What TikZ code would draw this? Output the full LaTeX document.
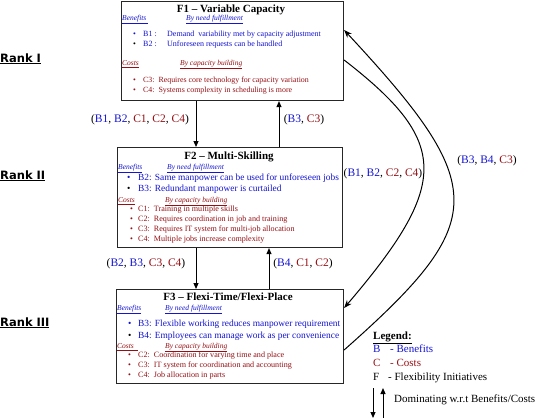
\documentclass[tikz,border=0pt]{standalone}
\usepackage{fontspec}
\setmainfont{Liberation Serif}
\newfontfamily\rankfont{DejaVu Sans}
\usetikzlibrary{arrows.meta}
\definecolor{bcol}{RGB}{20,20,210}
\definecolor{ccol}{RGB}{150,15,20}
\begin{document}
\begin{tikzpicture}[x=1pt,y=-1pt,
  box/.style={draw=black!85, line width=1.1pt, fill=white, inner sep=0, anchor=north west},
  txt/.style={anchor=base west, inner sep=0},
  ttl/.style={inner sep=0, anchor=base, yshift=-3.6pt, font=\fontsize{11}{13}\selectfont\bfseries},
  bA/.style={txt, yshift=-2.5pt, text=bcol, font=\fontsize{8}{10}\selectfont},
  cA/.style={txt, yshift=-2.5pt, text=ccol, font=\fontsize{7.9}{10}\selectfont},
  bB/.style={txt, yshift=-2.9pt, text=bcol, font=\fontsize{9.4}{11}\selectfont},
  cB/.style={txt, yshift=-2.5pt, text=ccol, font=\fontsize{8.1}{10}\selectfont},
  hB/.style={txt, yshift=-2.4pt, text=bcol, font=\fontsize{7.5}{9}\selectfont\itshape},
  hC/.style={txt, yshift=-2.4pt, text=ccol, font=\fontsize{7.5}{9}\selectfont\itshape},
  lbl/.style={inner sep=0, font=\fontsize{11.5}{13}\selectfont},
  rank/.style={txt, yshift=-4pt, font=\fontsize{11.5}{13}\selectfont\rankfont\bfseries},
  leg/.style={txt, yshift=-3.5pt, font=\fontsize{11}{12}\selectfont},
  arr/.style={line width=1pt, -{Triangle[length=6pt,width=5pt]}},
  curv/.style={line width=1pt, -{Stealth[length=8pt,width=6pt]}}]
\useasboundingbox (0,0) rectangle (544,418);

% boxes
\node[box, minimum width=222pt, minimum height=99pt] (f1) at (121,1) {};
\node[box, minimum width=225pt, minimum height=100pt] (f2) at (117,147) {};
\node[box, minimum width=227pt, minimum height=94pt] (f3) at (116,289) {};

% F1 contents
\node[ttl] (t1) at (231,9) {F1 -- Variable Capacity};
\node[hB] (f1bh) at (122,18) {\underline{Benefits\ }};
\node[hB] (f1bn) at (186,18) {\underline{By need fulfillment}};
\node[bA] (f1b1d) at (133,34) {\textbullet};
\node[bA] (f1b1l) at (143,34) {B1 :};
\node[bA] (f1b1) at (167,34) {Demand\ \ variability met by capacity adjustment};
\node[bA, text=black] (f1b2d) at (133,44) {\textbullet};
\node[bA] (f1b2l) at (143,44) {B2 :};
\node[bA] (f1b2) at (167,44) {Unforeseen requests can be handled};
\node[hC] (f1ch) at (122,63) {\underline{Costs}};
\node[hC] (f1cn) at (180,63) {\underline{By capacity building}};
\node[cA] (f1c3d) at (133,80) {\textbullet};
\node[cA] (f1c3) at (143,80) {C3:\ \ Requires core technology for capacity variation};
\node[cA] (f1c4d) at (133,90) {\textbullet};
\node[cA] (f1c4) at (143,90) {C4:\ \ Systems complexity in scheduling is more};

% F2 contents
\node[ttl] (t2) at (229,156) {F2 -- Multi-Skilling};
\node[hB] (f2bh) at (118,167) {\underline{Benefits}};
\node[hB] (f2bn) at (167,167) {\underline{By need fulfillment}};
\node[bB] (f2b2d) at (127,178) {\textbullet};
\node[bB] (f2b2) at (138,178) {B2: Same manpower can be used for unforeseen jobs};
\node[bB, text=black] (f2b3d) at (127,189) {\textbullet};
\node[bB] (f2b3) at (138,189) {B3: Redundant manpower is curtailed};
\node[hC] (f2ch) at (118,200) {\underline{Costs}};
\node[hC] (f2cn) at (165,200) {\underline{By capacity building}};
\node[cB] (f2c1d) at (130,209) {\textbullet};
\node[cB] (f2c1) at (138,209) {C1:\ \ Training in multiple skills};
\node[cB] (f2c2d) at (130,219) {\textbullet};
\node[cB] (f2c2) at (138,219) {C2:\ \ Requires coordination in job and training};
\node[cB] (f2c3d) at (130,229) {\textbullet};
\node[cB] (f2c3) at (138,229) {C3:\ \ Requires IT system for multi-job allocation};
\node[cB] (f2c4d) at (130,239) {\textbullet};
\node[cB] (f2c4) at (138,239) {C4:\ \ Multiple jobs increase complexity};

% F3 contents
\node[ttl] (t3) at (228,297) {F3 -- Flexi-Time/Flexi-Place};
\node[hB] (f3bh) at (117,308) {\underline{Benefits}};
\node[hB] (f3bn) at (165,308) {\underline{By need fulfillment}};
\node[bB] (f3b3d) at (128,324) {\textbullet};
\node[bB] (f3b3) at (138,324) {B3: Flexible working reduces manpower requirement};
\node[bB, text=black] (f3b4d) at (128,336) {\textbullet};
\node[bB] (f3b4) at (138,336) {B4: Employees can manage work as per convenience};
\node[hC] (f3ch) at (117,346) {\underline{Costs\ \ }};
\node[hC] (f3cn) at (165,346) {\underline{By capacity building}};
\node[cB] (f3c2d) at (128,355) {\textbullet};
\node[cB] (f3c2) at (138,355) {C2:\ \ Coordination for varying time and place};
\node[cB] (f3c3d) at (128,365) {\textbullet};
\node[cB] (f3c3) at (138,365) {C3:\ \ IT system for coordination and accounting};
\node[cB] (f3c4d) at (128,375) {\textbullet};
\node[cB] (f3c4) at (138,375) {C4:\ \ Job allocation in parts};

% rank labels
\node[rank] (r1) at (0,58) {\underline{Rank I}};
\node[rank] (r2) at (0,175) {\underline{Rank II}};
\node[rank] (r3) at (0,322) {\underline{Rank III}};

% straight connectors
\draw[arr] (196,0 |- f1.south) -- (196,0 |- f2.north);
\draw[arr] (279,0 |- f2.north) -- (279,0 |- f1.south);
\draw[arr] (196,0 |- f2.south) -- (196,0 |- f3.north);
\draw[arr] (269,0 |- f3.north) -- (269,0 |- f2.south);

\node[lbl] (l1) at (140,120) {({\color{bcol}B1}, {\color{bcol}B2}, {\color{ccol}C1}, {\color{ccol}C2}, {\color{ccol}C4})};
\node[lbl] (l2) at (304,120) {({\color{bcol}B3}, {\color{ccol}C3})};
\node[lbl] (l3) at (146,264) {({\color{bcol}B2}, {\color{bcol}B3}, {\color{ccol}C3}, {\color{ccol}C4})};
\node[lbl] (l4) at (303,264) {({\color{bcol}B4}, {\color{ccol}C1}, {\color{ccol}C2})};
\node[lbl] (l5) at (383,174) {({\color{bcol}B1}, {\color{bcol}B2}, {\color{ccol}C2}, {\color{ccol}C4})};
\node[lbl] (l6) at (487,161) {({\color{bcol}B3}, {\color{bcol}B4}, {\color{ccol}C3})};

% curved connectors
\draw[curv] (f1.east |- 0,60) .. controls (450,142) and (450,184) .. (f3.east |- 0,308);
\draw[curv] (f3.east |- 0,350) .. controls (490,221) and (490,187) .. (f1.east |- 0,30);

% legend
\node[leg, font=\fontsize{11}{12}\selectfont\bfseries] (lg) at (373,336) {\underline{Legend:}};
\node[leg, text=bcol] (lgb) at (373,349) {B};
\node[leg, text=bcol] (lgbt) at (390,349) {- Benefits};
\node[leg, text=ccol] (lgc) at (373,363) {C};
\node[leg, text=ccol] (lgct) at (390,363) {- Costs};
\node[leg] (lgf) at (373,377) {F};
\node[leg] (lgft) at (388,377) {- Flexibility Initiatives};
\coordinate (da) at (373,388);
\coordinate (db) at (373,418);
\coordinate (ua) at (383,418);
\coordinate (ub) at (383,388);
\draw[arr] (da) -- (db);
\draw[arr] (ua) -- (ub);
\node[leg] (lgd) at (394,399) {Dominating w.r.t Benefits/Costs};
\end{tikzpicture}
\end{document}
